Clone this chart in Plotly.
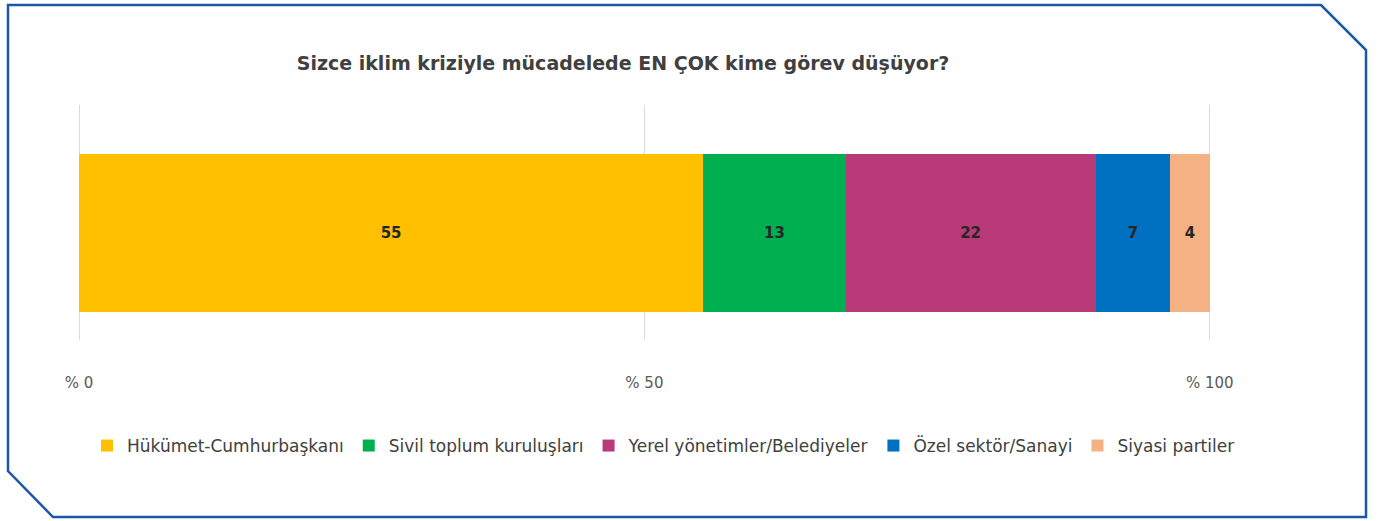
import plotly.graph_objects as go

categories = ["Hükümet-Cumhurbaşkanı", "Sivil toplum kuruluşları", "Yerel yönetimler/Belediyeler",
              "Özel sektör/Sanayi", "Siyasi partiler"]
values = [55.2, 12.6, 22.1, 6.6, 3.5]
colors = ["#FFC000", "#00B050", "#B83A78", "#0070C0", "#F4B183"]
tick_vals = [0, 50, 100]
tick_text = ["% 0", "% 50", "% 100"]
title = "Sizce iklim kriziyle mücadelede EN ÇOK kime görev düşüyor?"

W, H = 1386, 521
ML, MR, MT, MB = 79, 174, 105, 181
FONT = "DejaVu Sans"

def px(x):
    return (x - ML) / (W - ML - MR)

def py(y):
    return (H - MB - y) / (H - MT - MB)

fig = go.Figure()
for cat, val, col in zip(categories, values, colors):
    fig.add_trace(go.Bar(
        y=[0], x=[val], name=cat, orientation="h",
        marker=dict(color=col, line=dict(width=0)),
        width=1,
        text=[f"{val:.0f}"], textposition="inside", insidetextanchor="middle",
        textfont=dict(family=FONT, size=15, color="#262626", weight="bold"),
        textangle=0,
        hoverinfo="skip",
    ))

# frame with chamfered corners
frame_pts = [(8, 5), (1321, 5), (1366, 50), (1366, 517), (53, 517), (8, 471)]
path = "M " + " L ".join(f"{px(x)},{py(y)}" for x, y in frame_pts) + " Z"

fig.update_layout(
    width=W, height=H,
    margin=dict(l=ML, r=MR, t=MT, b=MB),
    barmode="stack",
    plot_bgcolor="white", paper_bgcolor="white",
    font=dict(family=FONT, color="#404040"),
    title=dict(text=title, x=px(623), xref="paper", xanchor="center",
               y=1 - 63 / H, yref="container", yanchor="middle",
               font=dict(size=19, color="#404040", weight="bold")),
    xaxis=dict(range=[0, 100.2], tickvals=tick_vals, ticktext=tick_text,
               showgrid=True, gridcolor="#D9D9D9", gridwidth=1,
               zeroline=True, zerolinecolor="#D9D9D9", zerolinewidth=1,
               showline=False, ticks="", ticklabelstandoff=32,
               tickfont=dict(size=15, color="#595959")),
    yaxis=dict(range=[-0.677, 0.810], showticklabels=False, showgrid=False,
               zeroline=False, showline=False, fixedrange=True),
    legend=dict(orientation="h", xref="paper", yref="paper",
                x=px(1240), xanchor="right", y=py(446), yanchor="middle",
                font=dict(size=17, color="#404040"), itemwidth=30,
                traceorder="normal", bgcolor="rgba(0,0,0,0)"),
    shapes=[dict(type="path", path=path, xref="paper", yref="paper",
                 line=dict(color="#1B57A7", width=2.5), fillcolor="rgba(0,0,0,0)",
                 layer="above")],
    showlegend=True,
)

fig.write_html("out.html", config={"displayModeBar": False},
               post_script="document.body.style.margin='0';document.body.style.padding='0';")
